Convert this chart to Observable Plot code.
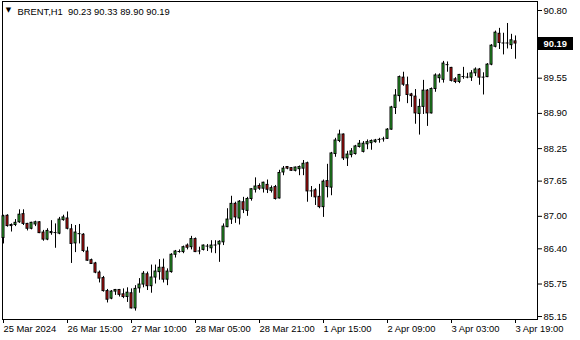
<!DOCTYPE html>
<html><head><meta charset="utf-8">
<script src="https://cdn.jsdelivr.net/npm/d3@7"></script>
<script src="https://cdn.jsdelivr.net/npm/@observablehq/plot@0.6"></script>
<style>html,body{margin:0;padding:0;background:#fff;} #chart svg{display:block;}</style>
</head><body><div id="chart"></div>
<script>
const symbol = "BRENT,H1";
const open = [86.60,87.01,86.82,86.84,86.89,87.04,86.86,86.77,86.85,86.89,86.70,86.57,86.69,86.70,86.68,86.93,86.96,86.76,86.50,86.68,86.66,86.35,86.19,86.13,85.96,85.86,85.62,85.48,85.61,85.64,85.56,85.51,85.58,85.30,85.67,85.74,85.93,85.71,85.87,85.97,86.05,85.83,85.97,86.29,86.35,86.34,86.46,86.43,86.58,86.36,86.38,86.45,86.41,86.47,86.48,86.52,86.80,86.94,87.23,86.96,87.26,87.10,87.32,87.49,87.56,87.51,87.58,87.47,87.54,87.33,87.81,87.91,87.89,87.84,87.87,87.88,87.98,87.47,87.48,87.36,87.17,87.65,87.53,88.15,88.39,88.51,88.07,88.13,88.15,88.28,88.19,88.33,88.35,88.37,88.42,88.43,88.43,88.60,89.00,89.22,89.56,89.42,89.25,89.21,88.89,89.02,89.32,88.90,89.35,89.55,89.52,89.80,89.74,89.53,89.48,89.58,89.57,89.56,89.64,89.71,89.57,89.57,89.80,90.13,90.37,90.20,90.20,90.16,90.23];
const high = [87.02,87.03,86.86,86.94,87.12,87.12,86.87,86.89,86.91,86.90,86.74,86.77,86.92,86.86,86.98,87.02,87.08,86.85,86.83,86.85,86.68,86.43,86.21,86.15,85.99,85.89,85.65,85.63,85.65,85.65,85.66,85.68,85.66,85.72,85.85,85.98,85.97,86.10,86.10,86.20,86.21,86.03,86.31,86.37,86.38,86.45,86.49,86.63,86.60,86.43,86.47,86.48,86.55,86.55,86.55,86.86,87.14,87.37,87.26,87.29,87.35,87.35,87.51,87.71,87.60,87.63,87.67,87.56,87.57,87.85,87.92,87.92,87.90,87.91,87.93,88.03,88.00,87.55,87.51,87.59,87.67,87.96,88.18,88.44,88.59,88.52,88.20,88.25,88.31,88.40,88.38,88.41,88.41,88.42,88.44,88.46,88.62,89.03,89.34,89.59,89.66,89.57,89.27,89.34,89.16,89.51,89.34,89.37,89.63,89.63,89.86,89.85,89.75,89.56,89.62,89.75,89.64,89.69,89.74,89.73,89.65,89.82,90.17,90.42,90.47,90.38,90.56,90.36,90.33];
const low = [86.49,86.80,86.71,86.81,86.87,86.83,86.73,86.75,86.81,86.68,86.54,86.55,86.65,86.41,86.66,86.91,86.75,86.13,86.33,86.49,86.33,86.17,86.11,85.94,85.77,85.60,85.40,85.46,85.54,85.51,85.48,85.41,85.29,85.25,85.58,85.68,85.63,85.58,85.75,85.82,85.77,85.72,85.95,86.23,86.32,86.31,86.38,86.38,86.33,86.29,86.36,86.35,86.32,86.31,86.15,86.46,86.79,86.85,86.87,86.84,87.05,87.00,87.28,87.43,87.48,87.43,87.42,87.43,87.30,87.32,87.75,87.86,87.83,87.82,87.75,87.75,87.26,87.35,87.20,87.14,86.98,87.34,87.38,88.09,88.36,88.03,87.92,88.08,88.13,88.26,88.17,88.23,88.22,88.35,88.35,88.37,88.42,88.59,88.88,89.11,89.40,89.08,89.01,88.70,88.50,88.88,88.66,88.89,89.29,89.46,89.46,89.66,89.48,89.45,89.45,89.53,89.54,89.49,89.58,89.42,89.24,89.56,89.78,90.11,90.08,89.98,90.09,90.08,89.90];
const close = [87.00,86.82,86.84,86.88,87.03,86.86,86.77,86.88,86.89,86.69,86.57,86.73,86.71,86.70,86.94,86.98,86.77,86.49,86.70,86.68,86.36,86.18,86.12,85.96,85.85,85.62,85.46,85.61,85.64,85.55,85.51,85.59,85.30,85.66,85.74,85.94,85.71,85.87,85.98,86.05,85.83,85.98,86.29,86.35,86.35,86.43,86.42,86.58,86.34,86.36,86.46,86.45,86.46,86.47,86.53,86.81,86.94,87.23,86.98,87.27,87.12,87.32,87.50,87.55,87.51,87.62,87.49,87.52,87.32,87.80,87.88,87.88,87.84,87.90,87.91,87.97,87.46,87.47,87.35,87.17,87.64,87.54,88.16,88.40,88.51,88.07,88.14,88.20,88.29,88.34,88.34,88.37,88.39,88.40,88.42,88.43,88.60,89.01,89.23,89.57,89.43,89.24,89.22,88.90,89.02,89.32,88.90,89.35,89.60,89.60,89.82,89.80,89.50,89.48,89.61,89.58,89.57,89.64,89.71,89.56,89.57,89.80,90.15,90.39,90.20,90.20,90.20,90.25,90.19];
const timeTickIndex = [0,16,32,48,64,80,96,112,128];
const timeTickLabels = ["25 Mar 2024","26 Mar 15:00","27 Mar 10:00","28 Mar 05:00","28 Mar 21:00","1 Apr 15:00","2 Apr 09:00","3 Apr 03:00","3 Apr 19:00"];
const priceTicks = [90.80,89.55,88.90,88.25,87.65,87.00,86.40,85.75,85.15];

const bullColor = "#32c832";
const bearColor = "#e01010";
const font = "'Liberation Sans', Arial, sans-serif";

const bars = open.map((o, i) => ({i, open: o, high: high[i], low: low[i], close: close[i]}));
const bodies = bars.filter(d => d.open !== d.close);
const dojis = bars.filter(d => d.open === d.close);
const last = bars[bars.length - 1];
const header = symbol + "  " + [last.open, last.high, last.low, last.close].map(v => v.toFixed(2)).join(" ");

const chart = Plot.plot({
  width: 580, height: 340,
  marginLeft: 2, marginRight: 43, marginTop: 1, marginBottom: 21,
  style: {fontFamily: font, fontSize: "9.4px", color: "#000", background: "#fff", overflow: "visible"},
  x: {type: "linear", domain: [-0.25, 133.5], axis: null},
  y: {domain: [85.095, 90.966], axis: null},
  marks: [
    Plot.frame({stroke: "#000"}),
    Plot.ruleX(bars, {x: "i", y1: "low", y2: "high", stroke: "#000"}),
    Plot.rect(bodies, {x1: d => d.i - 0.375, x2: d => d.i + 0.375, y1: "open", y2: "close",
      insetTop: -0.5, insetBottom: -0.5, fill: "#000"}),
    Plot.rect(bodies, {x1: d => d.i - 0.375, x2: d => d.i + 0.375, y1: "open", y2: "close",
      insetLeft: 1, insetRight: 1, insetTop: 0.5, insetBottom: 0.5,
      fill: d => d.close > d.open ? bullColor : bearColor}),
    Plot.ruleY(dojis, {y: "close", x1: d => d.i - 0.375, x2: d => d.i + 0.375, stroke: "#000"}),
    Plot.axisY(priceTicks, {anchor: "right", tickSize: 4, tickPadding: 2, tickFormat: d3.format(".2f"), label: null, fontSize: 9.4}),
    Plot.axisX(timeTickIndex, {anchor: "bottom", tickSize: 4, tickPadding: 2, textAnchor: "start", label: null,
      tickFormat: d => timeTickLabels[timeTickIndex.indexOf(d)], fontSize: 9.4}),
    Plot.text([header], {frameAnchor: "top-left", dx: 15, dy: 6.5, lineAnchor: "top", textAnchor: "start", fill: "#000", fontSize: 9.4}),
    Plot.text(["\u25BC"], {frameAnchor: "top-left", dx: 6, dy: 6, lineAnchor: "top", textAnchor: "middle", fill: "#000", fontSize: 7, fontFamily: "DejaVu Sans"}),
    Plot.text([last.close], {y: d => d, frameAnchor: "right", dx: 6, textAnchor: "start", fill: "white", fontWeight: "bold",
      text: d => d.toFixed(2), fontSize: 9.4})
  ]
});
document.getElementById("chart").appendChild(chart);

// black background box behind the last-price label, positioned through the chart's own y scale
const yPix = chart.scale("y").apply(last.close);
const lastLabel = last.close.toFixed(2);
const labelNode = d3.select(chart).selectAll("text").filter(function () {
  return this.textContent === lastLabel && this.parentNode.getAttribute("fill") === "white";
}).node();
const box = labelNode ? labelNode.parentNode : null;
const root = d3.select(chart);
const rect = box ? d3.select(box.parentNode).insert("rect", () => box) : root.append("rect");
rect.attr("x", 538).attr("y", Math.round(yPix) - 6).attr("width", 35).attr("height", 13).attr("fill", "#000");
</script>
</body></html>
